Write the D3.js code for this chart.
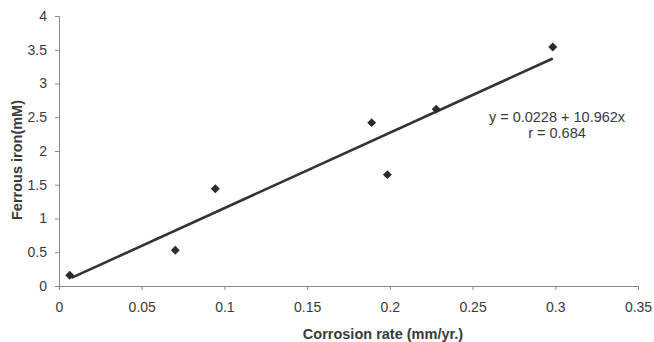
<!DOCTYPE html>
<html>
<head>
<meta charset="utf-8">
<script src="https://cdn.jsdelivr.net/npm/d3@7/dist/d3.min.js"></script>
<style>
  body { margin: 0; background: #fff; }
  svg { display: block; font-family: "Liberation Sans", Arial, sans-serif; }
</style>
</head>
<body>
<div id="chart"></div>
<script>
// data
const corrosionRate = [0.0065, 0.0703, 0.0945, 0.189, 0.1985, 0.228, 0.2985];
const ferrousIron   = [0.16, 0.53, 1.44, 2.42, 1.65, 2.62, 3.54];
const trendX = [0.0075, 0.2985];
const trendY = [0.12, 3.37];
const xTicks = [0, 0.05, 0.1, 0.15, 0.2, 0.25, 0.3, 0.35];
const yTicks = [0, 0.5, 1, 1.5, 2, 2.5, 3, 3.5, 4];
const equationLines = ["y = 0.0228 + 10.962x", "r = 0.684"];

const W = 654, H = 342;
const margin = { top: 16, right: 16, bottom: 56, left: 59 };
const width = W - margin.left - margin.right;
const height = H - margin.top - margin.bottom;

const svg = d3.select("#chart").append("svg")
    .attr("width", W)
    .attr("height", H);

const g = svg.append("g")
    .attr("transform", `translate(${margin.left},${margin.top})`);

const x = d3.scaleLinear().domain([0, 0.35]).range([0, width]);
const y = d3.scaleLinear().domain([0, 4]).range([height, 0]);

// axes
const xAxis = g.append("g")
    .attr("transform", `translate(0,${height})`)
    .call(d3.axisBottom(x).tickValues(xTicks).tickSize(4).tickPadding(12)
        .tickFormat(d => String(d)));
const yAxis = g.append("g")
    .call(d3.axisLeft(y).tickValues(yTicks).tickSize(4).tickPadding(8)
        .tickFormat(d => String(d)));

[xAxis, yAxis].forEach(a => {
    a.select(".domain").attr("stroke", "#8a8a8a");
    a.selectAll(".tick line").attr("stroke", "#8a8a8a");
    a.selectAll(".tick text")
        .attr("fill", "#3a3a3a")
        .style("font-size", "14px")
        .style("font-family", "'Liberation Sans', Arial, sans-serif");
});

// axis titles
svg.append("text")
    .attr("x", 383)
    .attr("y", 339)
    .attr("text-anchor", "middle")
    .attr("fill", "#3a3a3a")
    .style("font-size", "14.5px")
    .style("font-weight", "bold")
    .text("Corrosion rate (mm/yr.)");

svg.append("text")
    .attr("transform", "translate(22,160) rotate(-90)")
    .attr("text-anchor", "middle")
    .attr("fill", "#3a3a3a")
    .style("font-size", "14.5px")
    .style("font-weight", "bold")
    .text("Ferrous iron(mM)");

// trend line
const line = d3.line().x(d => x(d[0])).y(d => y(d[1]));
g.append("path")
    .datum(d3.zip(trendX, trendY))
    .attr("d", line)
    .attr("fill", "none")
    .attr("stroke", "#333")
    .attr("stroke-width", 2.6);

// points (diamonds = rotated squares)
const marker = d3.symbol().type(d3.symbolSquare).size(40);
g.selectAll(".pt")
    .data(d3.zip(corrosionRate, ferrousIron))
    .enter()
    .append("path")
    .attr("class", "pt")
    .attr("d", marker)
    .attr("transform", d => `translate(${x(d[0])},${y(d[1])}) rotate(45)`)
    .attr("fill", "#2b2b2b");

// equation text
const eq = svg.append("text")
    .attr("text-anchor", "middle")
    .attr("fill", "#3a3a3a")
    .style("font-size", "14.5px");
equationLines.forEach((t, i) => {
    eq.append("tspan")
        .attr("x", 557)
        .attr("y", 122 + i * 16)
        .text(t);
});
</script>
</body>
</html>
